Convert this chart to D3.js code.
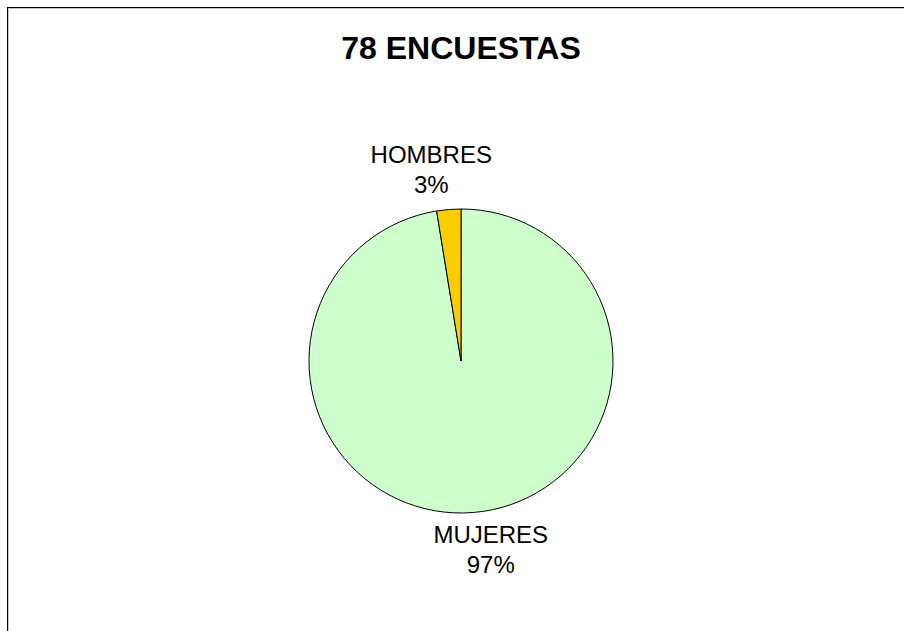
<!DOCTYPE html>
<html>
<head>
<meta charset="utf-8">
<script src="https://cdn.jsdelivr.net/npm/d3@7/dist/d3.min.js"></script>
<style>
  body { margin: 0; background: #fff; }
  text { font-family: Arial, "Liberation Sans", sans-serif; fill: #000; }
</style>
</head>
<body>
<div id="chart"></div>
<script>
// data
var categories = ["MUJERES", "HOMBRES"];
var counts = [76, 2];
var percentLabels = ["97%", "3%"];
var sliceColors = ["#CCFFCC", "#FFCC00"];
var chartTitle = "78 ENCUESTAS";

var width = 904, height = 631;
var cx = 461, cy = 361, radius = 152;

var svg = d3.select("#chart")
  .append("svg")
    .attr("width", width)
    .attr("height", height);

// chart frame (runs off the right/bottom edge like the original)
svg.append("rect")
  .attr("x", 8.5).attr("y", 8.5)
  .attr("width", width).attr("height", height)
  .style("fill", "none")
  .style("stroke", "#c8c8c8");
svg.append("rect")
  .attr("x", 7.5).attr("y", 7.5)
  .attr("width", width).attr("height", height)
  .style("fill", "none")
  .style("stroke", "#000");

svg.append("text")
  .attr("x", cx)
  .attr("y", 59)
  .style("text-anchor", "middle")
  .style("font-size", "32px")
  .style("font-weight", "bold")
  .text(chartTitle);

var data = categories.map(function(c, i) {
  return {name: c, value: counts[i], pct: percentLabels[i], color: sliceColors[i]};
});

var pie = d3.pie()
  .sort(null)
  .value(function(d) { return d.value; });

var arc = d3.arc()
  .innerRadius(0)
  .outerRadius(radius);

var g = svg.append("g")
  .attr("transform", "translate(" + cx + "," + cy + ")");

var arcs = pie(data);

g.selectAll("path")
  .data(arcs)
  .enter().append("path")
    .attr("d", arc)
    .style("fill", function(d) { return d.data.color; })
    .style("stroke", "#000")
    .style("stroke-width", 1);

// labels: two lines, placed just outside the pie in the slice direction
var lineH = 30;
arcs.forEach(function(d) {
  var a = (d.startAngle + d.endAngle) / 2;
  var x = Math.sin(a) * 370;
  var top = Math.cos(a) > 0;
  var y0 = top ? -radius - 16 - lineH : radius + 30;
  var t = g.append("text")
    .attr("x", x)
    .attr("y", y0)
    .style("text-anchor", "middle")
    .style("font-size", "24px");
  t.append("tspan").attr("x", x).attr("y", y0).text(d.data.name);
  t.append("tspan").attr("x", x).attr("y", y0 + lineH).text(d.data.pct);
});
</script>
</body>
</html>
